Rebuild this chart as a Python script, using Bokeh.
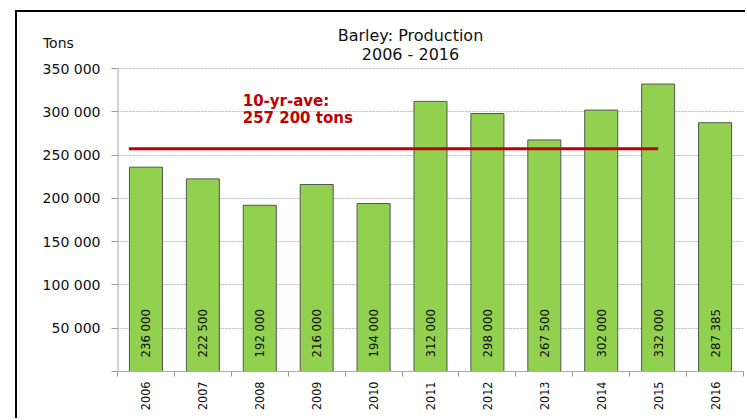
import math
from bokeh.plotting import figure
from bokeh.models import Range1d, FixedTicker, Label, ColumnDataSource
from bokeh.core.properties import value
from bokeh.embed import file_html
from bokeh.resources import INLINE

years = [2006, 2007, 2008, 2009, 2010, 2011, 2012, 2013, 2014, 2015, 2016]
production = [236000, 222500, 192000, 216000, 194000, 312000, 298000, 267500, 302000, 332000, 287385]
average = 257200
avg_first_year = 2006
avg_last_year = 2015
y_ticks = [0, 50000, 100000, 150000, 200000, 250000, 300000, 350000]
y_unit = "Tons"
title_lines = ["Barley: Production", "2006 - 2016"]

def fmt(v):
    return f"{v:,}".replace(",", " ")

# page offset of the canvas (CSS margin + border)
OX, OY = 17, 12
W, H = 747 - OX, 420 - OY
FL, FR, FT, FB = 117, 743, 20, 371          # frame edges in page px
PX = 350000 / (371 - 68)                     # data units per px
y_top = 350000 + (68 - FT) * PX

xs = [y - years[0] + 0.5 for y in years]
src = ColumnDataSource(dict(x=xs, top=production, label=[fmt(v) for v in production]))

p = figure(width=W, height=H, output_backend="svg", toolbar_location=None,
           x_range=Range1d(0, len(years)), y_range=Range1d(0, y_top),
           min_border_left=FL - OX, min_border_right=OX + W - FR,
           min_border_top=FT - OY, min_border_bottom=OY + H - FB)
p.margin = (OY - 2, 0, 0, OX - 2)
p.styles = {"border-left": "2px solid black", "border-top": "2px solid black"}
p.outline_line_color = None

p.vbar(x="x", top="top", width=0.58, source=src, fill_color="#92d050",
       line_color="#555555", line_width=1)
p.text(x="x", y=0, text="label", source=src, angle=math.pi / 2, text_align="left",
       text_baseline="middle", y_offset=-14, text_font=value("DejaVu Sans Condensed"),
       text_font_size="13px", text_color="#111111")

p.segment(x0=[avg_first_year - years[0] + 0.2], x1=[avg_last_year - years[0] + 0.5],
          y0=[average], y1=[average], line_color="#c00000", line_width=3)

# y axis line (drawn only up to the top tick)
p.segment(x0=[0], x1=[0], y0=[y_ticks[0]], y1=[y_ticks[-1]], line_color="#a8a8a8", line_width=2)

# x axis
p.xaxis.ticker = FixedTicker(ticks=xs, minor_ticks=list(range(len(years) + 1)))
p.xaxis.major_label_overrides = {x: str(y) for x, y in zip(xs, years)}
p.xaxis.major_label_orientation = math.pi / 2
p.xaxis.major_tick_line_color = None
p.xaxis.major_tick_out = 0
p.xaxis.major_tick_in = 0
p.xaxis.major_label_standoff = 5
p.xaxis.minor_tick_out = 5
p.xaxis.minor_tick_in = 0
p.xaxis.minor_tick_line_color = "#999999"
p.xaxis.axis_line_color = "#aaaaaa"
p.xaxis.major_label_text_font = "DejaVu Sans Condensed"
p.xaxis.major_label_text_font_size = "12.5px"
p.xaxis.major_label_text_color = "#111111"

# y axis (unit label as an extra tick label above the top tick)
tons_y = 350000 + (68 - 42) * PX
p.yaxis.ticker = FixedTicker(ticks=y_ticks + [tons_y], minor_ticks=y_ticks)
overrides = {t: (fmt(t) if t else "") for t in y_ticks}
overrides[tons_y] = y_unit + "\u00a0" * 6
p.yaxis.major_label_overrides = overrides
p.yaxis.axis_line_color = None
p.yaxis.major_tick_line_color = None
p.yaxis.major_tick_out = 6
p.yaxis.major_tick_in = 0
p.yaxis.minor_tick_out = 6
p.yaxis.minor_tick_in = 0
p.yaxis.minor_tick_line_color = "#999999"
p.yaxis.major_label_standoff = 11
p.yaxis.major_label_text_font = "DejaVu Sans"
p.yaxis.major_label_text_font_size = "14px"
p.yaxis.major_label_text_color = "#111111"

p.xgrid.grid_line_color = None
p.ygrid.ticker = FixedTicker(ticks=y_ticks)
p.ygrid.grid_line_color = "#bbbbbb"
p.ygrid.grid_line_dash = "2 1"

# title and annotation
tx = (410 - FL) / ((FR - FL) / len(years))
for line, py in zip(title_lines, [35, 54]):
    p.add_layout(Label(x=tx, y=350000 + (68 - py) * PX, text=line, text_font="DejaVu Sans",
                       text_font_size="16px", text_align="center", text_baseline="middle",
                       text_color="#111111"))
p.add_layout(Label(x=2.2, y=311900, text="10-yr-ave:", text_font="DejaVu Sans",
                   text_font_size="15px", text_font_style="bold", text_baseline="middle",
                   text_color="#c00000"))
p.add_layout(Label(x=2.2, y=292300, text=f"{fmt(average)} tons", text_font="DejaVu Sans",
                   text_font_size="15px", text_font_style="bold", text_baseline="middle",
                   text_color="#c00000"))

open("out.html", "w").write(file_html(p, INLINE))
